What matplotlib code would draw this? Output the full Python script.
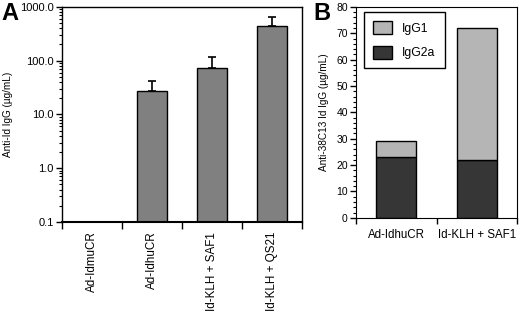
import matplotlib.pyplot as plt
from matplotlib.ticker import FixedLocator, NullFormatter, MultipleLocator

plt.rcParams['font.family'] = ['Liberation Sans', 'DejaVu Sans']

# panel A
groups_a = ['Ad-IdmuCR', 'Ad-IdhuCR', 'Id-KLH + SAF1', 'Id-KLH + QS21']
means_a = [0.1, 27, 72, 440]
errs_a = [0, 14, 47, 220]

# panel B
groups_b = ['Ad-IdhuCR', 'Id-KLH + SAF1']
igg2a = [23, 22]
igg1 = [6, 50]

fig = plt.figure(figsize=(5.2, 3.13), dpi=100)

ax = fig.add_axes([0.119, 0.291, 0.462, 0.687])
xa = range(len(groups_a))
ax.bar(xa, means_a, width=0.5, color='#808080', edgecolor='black', linewidth=1.0,
       yerr=[[0] * 4, errs_a], error_kw=dict(ecolor='black', elinewidth=1.2, capsize=3, capthick=1.2))
ax.set_yscale('log')
ax.set_ylim(0.1, 1000)
ax.set_xlim(-0.5, 3.5)
ax.set_yticks([0.1, 1, 10, 100, 1000])
ax.set_yticklabels(['0.1', '1.0', '10.0', '100.0', '1000.0'], fontsize=8)
ax.yaxis.set_minor_formatter(NullFormatter())
ax.set_xticks(list(xa))
ax.set_xticklabels(groups_a, rotation=90, fontsize=8.4, va='top')
ax.tick_params(axis='x', which='major', length=0, pad=7)
ax.xaxis.set_minor_locator(FixedLocator([-0.5, 0.5, 1.5, 2.5, 3.5]))
ax.tick_params(axis='x', which='minor', length=5, width=1)
ax.tick_params(axis='y', which='major', length=4, width=1, pad=2)
ax.tick_params(axis='y', which='minor', length=2.5, width=0.8)
ax.set_ylabel('Anti-Id IgG (µg/mL)', fontsize=7.2, labelpad=5)
for s in ax.spines.values():
    s.set_linewidth(1.0)
ax.spines['bottom'].set_linewidth(1.5)
fig.text(0.002, 0.995, 'A', fontsize=17, fontweight='bold', va='top')

bx = fig.add_axes([0.685, 0.304, 0.309, 0.674])
xb = range(len(groups_b))
bx.bar(xb, igg2a, width=0.5, color='#363636', edgecolor='black', linewidth=1.0, label='IgG2a')
bx.bar(xb, igg1, width=0.5, bottom=igg2a, color='#b5b5b5', edgecolor='black', linewidth=1.0, label='IgG1')
bx.set_ylim(0, 80)
bx.set_xlim(-0.5, 1.5)
bx.yaxis.set_major_locator(MultipleLocator(10))
bx.yaxis.set_minor_locator(MultipleLocator(2))
bx.tick_params(axis='y', labelsize=7.5, length=4, width=1, pad=2)
bx.tick_params(axis='y', which='minor', length=2.5, width=0.8)
bx.set_xticks(list(xb))
bx.set_xticklabels(groups_b, fontsize=8.3)
bx.tick_params(axis='x', which='major', length=0, pad=8)
bx.xaxis.set_minor_locator(FixedLocator([-0.5, 0.5, 1.5]))
bx.tick_params(axis='x', which='minor', length=4, width=1)
bx.set_ylabel('Anti-38C13 Id IgG (µg/mL)', fontsize=7.2, labelpad=5)
h, l = bx.get_legend_handles_labels()
leg = bx.legend(h[::-1], l[::-1], loc='upper left', bbox_to_anchor=(0.05, 0.976), fontsize=8.8,
                fancybox=False, edgecolor='black', framealpha=1, handlelength=1.55, handleheight=1.25,
                borderpad=0.75, labelspacing=0.9, handletextpad=0.8, borderaxespad=0)
leg.get_frame().set_linewidth(1.0)
fig.text(0.603, 0.995, 'B', fontsize=17, fontweight='bold', va='top')

plt.savefig('out.png', dpi=100)
